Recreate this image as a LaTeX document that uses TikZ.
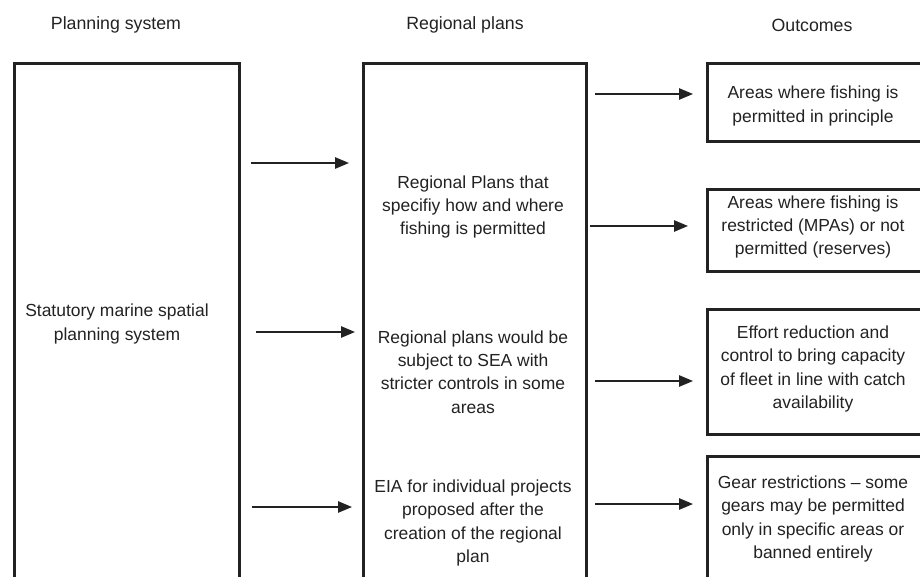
\documentclass[tikz,border=0pt]{standalone}
\usepackage{fontspec}
\setmainfont{Liberation Sans}
\usetikzlibrary{arrows.meta}
\definecolor{ink}{HTML}{222222}
\tikzset{
  frame/.style={draw=ink, line width=2.3pt, inner sep=0pt, anchor=north west},
  txt/.style={text=ink, align=center, inner sep=0pt,
    font=\fontsize{13.1pt}{17.6pt}\selectfont},
  head/.style={text=ink, inner sep=0pt, font=\fontsize{13.3pt}{17.6pt}\selectfont},
  arr/.style={draw=ink, line width=1.2pt, -{Triangle[length=10.5pt,width=8.5pt]}},
}
\begin{document}
\begin{tikzpicture}[x=0.75pt,y=-0.75pt]
\useasboundingbox (0,0) rectangle (920,577);
\clip (0,0) rectangle (920,577);

% column headings
\node[head] (hPlan) at (116,25) {Planning system};
\node[head] (hReg)  at (465,25) {Regional plans};
\node[head] (hOut)  at (812,25) {Outcomes};

% tall boxes running off the bottom edge
\node[frame, minimum width=225*0.75pt, minimum height=560*0.75pt] (plan) at (13,62) {};
\node[frame, minimum width=223*0.75pt, minimum height=560*0.75pt] (reg)  at (362,62) {};

% outcome boxes running off the right edge
\node[frame, minimum width=217*0.75pt, minimum height=78*0.75pt]  (o1) at (706,62) {};
\node[frame, minimum width=217*0.75pt, minimum height=82*0.75pt]  (o2) at (706,188) {};
\node[frame, minimum width=217*0.75pt, minimum height=125*0.75pt] (o3) at (706,308) {};
\node[frame, minimum width=217*0.75pt, minimum height=160*0.75pt] (o4) at (706,455) {};

% box texts
\node[txt] (tPlan) at (117,324) {Statutory marine spatial\\planning system};
\node[txt] (tR1) at (473,207) {Regional Plans that\\specifiy how and where\\fishing is permitted};
\node[txt] (tR2) at (473,372) {Regional plans would be\\subject to SEA with\\stricter controls in some\\areas};
\node[txt] (tR3) at (473,523) {EIA for individual projects\\proposed after the\\creation of the regional\\plan};
\node[txt] (tO1) at (813,106) {Areas where fishing is\\permitted in principle};
\node[txt] (tO2) at (813,227) {Areas where fishing is\\restricted (MPAs) or not\\permitted (reserves)};
\node[txt] (tO3) at (813,369) {Effort reduction and\\control to bring capacity\\of fleet in line with catch\\availability};
\node[txt] (tO4) at (813,519) {Gear restrictions -- some\\gears may be permitted\\only in specific areas or\\banned entirely};

% arrow tails
\coordinate (s1) at (251,163);
\coordinate (s2) at (256,332);
\coordinate (s3) at (252,507);
\coordinate (r1) at (595,94);
\coordinate (r2) at (590,226);
\coordinate (r3) at (595,381);
\coordinate (r4) at (595,504);

% planning system -> regional plans
\draw[arr, shorten >=13*0.75pt] (s1) -- (s1 -| reg.west);
\draw[arr, shorten >=7*0.75pt]  (s2) -- (s2 -| reg.west);
\draw[arr, shorten >=10*0.75pt] (s3) -- (s3 -| reg.west);

% regional plans -> outcomes
\draw[arr, shorten >=13*0.75pt] (r1) -- (r1 -| o1.west);
\draw[arr, shorten >=18*0.75pt] (r2) -- (r2 -| o2.west);
\draw[arr, shorten >=13*0.75pt] (r3) -- (r3 -| o3.west);
\draw[arr, shorten >=13*0.75pt] (r4) -- (r4 -| o4.west);
\end{tikzpicture}
\end{document}
